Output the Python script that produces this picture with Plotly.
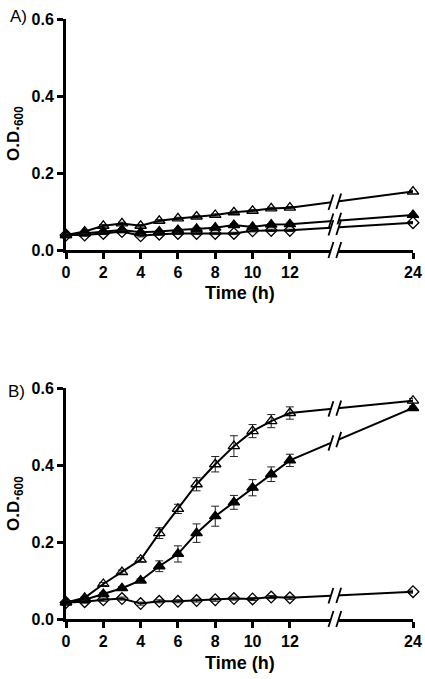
import plotly.graph_objects as go

# ---------------- data ----------------
time_h = [0, 1, 2, 3, 4, 5, 6, 7, 8, 9, 10, 11, 12, 24]
x_tick_labels = ["0", "2", "4", "6", "8", "10", "12", "24"]
x_tick_hours = [0, 2, 4, 6, 8, 10, 12, 24]
y_tick_vals = [0.0, 0.2, 0.4, 0.6]
y_tick_labels = ["0.0", "0.2", "0.4", "0.6"]

# Panel A
a_open = [0.039, 0.048, 0.063, 0.069, 0.063, 0.076, 0.082, 0.087, 0.091, 0.098, 0.102, 0.108, 0.110, 0.152]
a_open_err = [0.003] * 14
a_filled = [0.039, 0.043, 0.048, 0.052, 0.046, 0.048, 0.052, 0.055, 0.058, 0.065, 0.060, 0.066, 0.067, 0.091]
a_filled_err = [0.003] * 14
a_diamond = [0.039, 0.039, 0.043, 0.048, 0.037, 0.041, 0.043, 0.043, 0.043, 0.043, 0.050, 0.051, 0.051, 0.071]
a_diamond_err = [0.003] * 14

# Panel B
b_open = [0.043, 0.055, 0.091, 0.122, 0.154, 0.223, 0.286, 0.350, 0.402, 0.449, 0.488, 0.514, 0.535, 0.567]
b_open_err = [0.003, 0.003, 0.004, 0.005, 0.005, 0.014, 0.012, 0.017, 0.020, 0.027, 0.017, 0.017, 0.016, 0.006]
b_filled = [0.043, 0.050, 0.065, 0.080, 0.100, 0.137, 0.169, 0.223, 0.267, 0.303, 0.341, 0.376, 0.412, 0.548]
b_filled_err = [0.003, 0.003, 0.004, 0.004, 0.004, 0.014, 0.021, 0.024, 0.026, 0.018, 0.021, 0.019, 0.016, 0.005]
b_diamond = [0.043, 0.045, 0.050, 0.053, 0.040, 0.046, 0.046, 0.048, 0.050, 0.053, 0.052, 0.057, 0.055, 0.071]
b_diamond_err = [0.004] * 14

# ---------------- broken time scale ----------------
SEG = 0.55          # compression of the 12-24 h segment
BREAK_T = 12


def brk(t):
    return t if t <= BREAK_T else BREAK_T + (t - BREAK_T) * SEG


XMAX = brk(24)
BREAK_POS = [14.2, 14.62]   # axis positions of the two slashes
xs = [brk(t) for t in time_h]

FONT = "Liberation Sans, Arial, sans-serif"

fig = go.Figure()

panels = [
    ("x", "y", [(a_open, a_open_err, "triangle-up-open", "Strain 1"),
                (a_filled, a_filled_err, "triangle-up", "Strain 2"),
                (a_diamond, a_diamond_err, "diamond-open", "Strain 3")]),
    ("x2", "y2", [(b_open, b_open_err, "triangle-up-open", "Strain 1"),
                  (b_filled, b_filled_err, "triangle-up", "Strain 2"),
                  (b_diamond, b_diamond_err, "diamond-open", "Strain 3")]),
]

shapes = []
for xa, ya, series in panels:
    for vals, errs, sym, name in series:
        fig.add_trace(go.Scatter(
            x=xs, y=vals, xaxis=xa, yaxis=ya, name=name,
            mode="lines+markers",
            line=dict(color="black", width=2),
            marker=dict(symbol=sym, size=10 if "triangle" in sym else 9,
                        color="black", line=dict(color="black", width=1.3)),
            error_y=dict(type="data", array=errs, visible=True,
                         color="#222222", thickness=1, width=4),
            cliponaxis=False, showlegend=False,
        ))
        # break marks on each line
        x12, x24 = xs[-2], xs[-1]
        y12, y24 = vals[-2], vals[-1]

        def yi(p):
            return y12 + (y24 - y12) * (p - x12) / (x24 - x12)

        shapes.append(dict(type="line", xref=xa, yref=ya,
                           x0=BREAK_POS[0], y0=yi(BREAK_POS[0]),
                           x1=BREAK_POS[1], y1=yi(BREAK_POS[1]),
                           line=dict(color="white", width=6), layer="above"))
        for p in BREAK_POS:
            shapes.append(dict(type="line", xref=xa, yref=ya,
                               x0=p - 0.13, y0=yi(p) - 0.02,
                               x1=p + 0.13, y1=yi(p) + 0.02,
                               line=dict(color="black", width=1.8), layer="above"))

# domains
dom_a = [0.615, 1.0]
dom_b = [0.0, 0.385]
PLOT_H = 600.0
PLOT_W = 347.0

# axis break marks
for dom in (dom_a, dom_b):
    yb = dom[0]
    shapes.append(dict(type="line", xref="paper", yref="paper",
                       x0=BREAK_POS[0] / XMAX, y0=yb, x1=BREAK_POS[1] / XMAX, y1=yb,
                       line=dict(color="white", width=6), layer="above"))
    for p in BREAK_POS:
        shapes.append(dict(type="line", xref="paper", yref="paper",
                           x0=p / XMAX - 2.5 / PLOT_W, y0=yb - 8 / PLOT_H,
                           x1=p / XMAX + 2.5 / PLOT_W, y1=yb + 8 / PLOT_H,
                           line=dict(color="black", width=1.8), layer="above"))

xaxis_common = dict(
    range=[0, XMAX], tickvals=[brk(t) for t in x_tick_hours], ticktext=x_tick_labels,
    showline=True, linecolor="black", linewidth=3, ticks="outside", ticklen=6,
    tickwidth=3, tickcolor="black", showgrid=False, zeroline=False,
    ticklabeloverflow="allow", automargin=False,
    tickfont=dict(family=FONT, size=16, color="black", weight="bold"),
)
yaxis_common = dict(
    range=[0, 0.6], tickvals=y_tick_vals, ticktext=y_tick_labels,
    showline=True, linecolor="black", linewidth=3, ticks="outside", ticklen=6,
    tickwidth=3, tickcolor="black", showgrid=False, zeroline=False,
    automargin=False,
    tickfont=dict(family=FONT, size=16, color="black", weight="bold"),
)

fig.update_layout(
    width=425, height=679,
    margin=dict(l=66, r=12, t=19, b=60, autoexpand=False),
    paper_bgcolor="white", plot_bgcolor="white",
    xaxis=dict(domain=[0, 1], anchor="y", **xaxis_common),
    yaxis=dict(domain=dom_a, anchor="x", **yaxis_common),
    xaxis2=dict(domain=[0, 1], anchor="y2", **xaxis_common),
    yaxis2=dict(domain=dom_b, anchor="x2", **yaxis_common),
    shapes=shapes,
    font=dict(family=FONT, color="black"),
)


def px_x(px):
    return (px - 66) / PLOT_W


def px_y(py):
    return (619 - py) / PLOT_H


annotations = [
    dict(text="A)", x=px_x(8), y=px_y(16), xanchor="left", yanchor="middle",
         font=dict(size=17, family=FONT)),
    dict(text="B)", x=px_x(6), y=px_y(392), xanchor="left", yanchor="middle",
         font=dict(size=17, family=FONT)),
    dict(text="<b>O.D.<sub>600</sub></b>", x=px_x(15), y=px_y(134), textangle=-90,
         xanchor="center", yanchor="middle", font=dict(size=17, family=FONT)),
    dict(text="<b>O.D.<sub>600</sub></b>", x=px_x(15), y=px_y(504), textangle=-90,
         xanchor="center", yanchor="middle", font=dict(size=17, family=FONT)),
    dict(text="<b>Time (h)</b>", x=0.5, y=px_y(293), xanchor="center", yanchor="middle",
         font=dict(size=18, family=FONT)),
    dict(text="<b>Time (h)</b>", x=0.5, y=px_y(663), xanchor="center", yanchor="middle",
         font=dict(size=18, family=FONT)),
]
for a in annotations:
    a.update(xref="paper", yref="paper", showarrow=False)
fig.update_layout(annotations=annotations)

# remove the default 8px page margin so the figure fills the window exactly
fig.write_html("out.html", config={"displayModeBar": False},
               post_script="document.body.style.margin='0';")
